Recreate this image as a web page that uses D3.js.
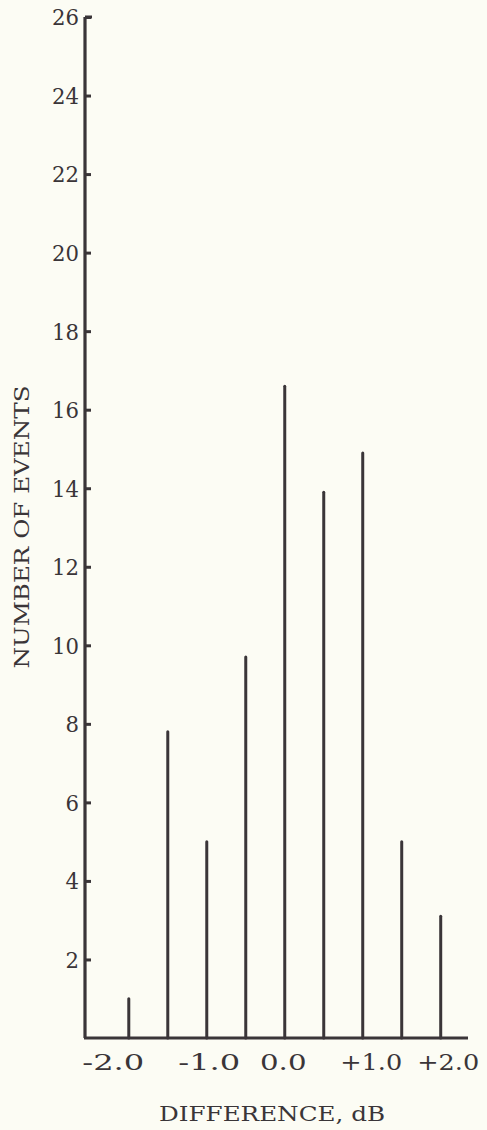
<!DOCTYPE html>
<html>
<head>
<meta charset="utf-8">
<script src="https://cdn.jsdelivr.net/npm/d3@7"></script>
<style>
  html, body { margin: 0; padding: 0; background: #fcfcf4; }
  svg { display: block; }
  text { font-family: "DejaVu Serif", "Liberation Serif", serif; fill: #3a3538; }
</style>
</head>
<body>
<script>
// ---- data ----
const differences = [-2.0, -1.5, -1.0, -0.5, 0.0, 0.5, 1.0, 1.5, 2.0];
const numberOfEvents = [1.0, 7.8, 5.0, 9.7, 16.6, 13.9, 14.9, 5.0, 3.1];
const yTickValues = [2, 4, 6, 8, 10, 12, 14, 16, 18, 20, 22, 24, 26];
const xTickValues = [-2, -1, 0, 1, 2];
const xTickLabels = ["-2.0", "-1.0", "0.0", "+1.0", "+2.0"];
const xTitle = "DIFFERENCE, dB";
const yTitle = "NUMBER OF EVENTS";

const W = 487, H = 1130;
const ink = "#3a3538";
const serif = "DejaVu Serif, Liberation Serif, serif";
// typed-label horizontal nudges (typewriter placement in the original)
const xLabelNudge = [-16, 2, -2, 8, 7];

const svg = d3.select("body").append("svg")
  .attr("width", W).attr("height", H);

svg.append("rect").attr("width", W).attr("height", H).attr("fill", "#fcfcf4");

const x = d3.scaleLinear().domain([-2.6, 2.35]).range([82, 468]);
const y = d3.scaleLinear().domain([0, 26]).range([1038, 17]);

// bars (vertical lines)
svg.append("g").selectAll("line")
  .data(differences.map((d, i) => ({ d, v: numberOfEvents[i] })))
  .join("line")
  .attr("x1", p => x(p.d)).attr("x2", p => x(p.d))
  .attr("y1", y(0)).attr("y2", p => y(p.v))
  .attr("stroke", ink).attr("stroke-width", 3)
  .attr("stroke-linecap", "round");

// y axis
const yAxis = d3.axisLeft(y).tickValues(yTickValues).tickSize(-6).tickPadding(6)
  .tickFormat(d3.format("d"));
const gy = svg.append("g").attr("transform", `translate(${x(-2.6) + 3},0)`).call(yAxis);
gy.select(".domain").attr("stroke", ink).attr("stroke-width", 3.2)
  .attr("d", `M0,${y(26)}H7M0,${y(26)}V${y(0)}`);
gy.selectAll(".tick line").attr("stroke", ink).attr("stroke-width", 3);
gy.selectAll(".tick text").attr("font-size", 22).attr("fill", ink)
  .attr("font-family", serif)
  .attr("dy", "0.36em")
  .each(function() {
    const n = this.textContent.length;
    d3.select(this).attr("textLength", n * 13.5).attr("lengthAdjust", "spacingAndGlyphs");
  });

// x axis
const xAxis = d3.axisBottom(x).tickValues(xTickValues).tickSize(0).tickPadding(16)
  .tickFormat((d, i) => xTickLabels[i]);
const gx = svg.append("g").attr("transform", `translate(0,${y(0)})`).call(xAxis);
gx.select(".domain").attr("stroke", ink).attr("stroke-width", 3.2)
  .attr("d", `M${x(-2.6) + 2},0H${x(2.35)}`);
gx.selectAll(".tick text").attr("font-size", 23).attr("fill", ink)
  .attr("font-family", serif)
  .attr("dx", (d, i) => xLabelNudge[i])
  .each(function() {
    const n = this.textContent.length;
    d3.select(this).attr("textLength", n * 15.5).attr("lengthAdjust", "spacingAndGlyphs");
  });

// titles
svg.append("text")
  .attr("x", 272).attr("y", 1121)
  .attr("text-anchor", "middle")
  .attr("font-size", 20)
  .attr("textLength", 226).attr("lengthAdjust", "spacingAndGlyphs")
  .text(xTitle);

svg.append("text")
  .attr("transform", "translate(29,527) rotate(-90)")
  .attr("text-anchor", "middle")
  .attr("font-size", 20)
  .attr("textLength", 283).attr("lengthAdjust", "spacingAndGlyphs")
  .text(yTitle);
</script>
</body>
</html>
